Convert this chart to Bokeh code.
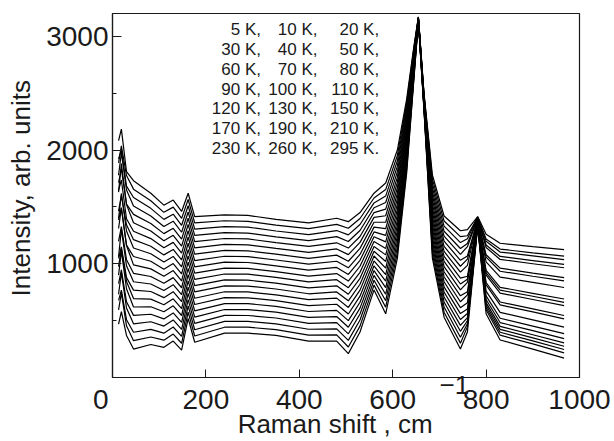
from bokeh.plotting import figure
from bokeh.models import Range1d, FixedTicker, Label
from bokeh.embed import file_html
from bokeh.resources import INLINE

# ---------------- data ----------------
temperatures_K = [5, 10, 20, 30, 40, 50, 60, 70, 80, 90, 100,
                  110, 120, 130, 150, 170, 190, 210, 230, 260, 295]

# Raman shift sample positions, cm^-1
raman_shift = [13, 19, 30, 45, 82, 110, 130, 148, 162, 176, 240, 290, 350, 420,
               480, 505, 530, 560, 585, 610, 630, 645, 655, 667, 685, 710, 745,
               760, 782, 800, 830, 900, 967]

# intensity at each Raman shift (one row per shift, one value per spectrum, top to bottom)
intensity_by_shift = [
    [2083, 1886, 1922, 1778, 1714, 1630, 1646, 1462, 1398, 1384, 1310, 1196, 1062, 1048, 974, 900, 826, 732, 678, 594, 470],
    [2183, 2036, 2002, 1978, 1834, 1880, 1736, 1602, 1618, 1494, 1490, 1326, 1302, 1148, 1134, 1110, 946, 922, 768, 744, 580],
    [1809, 1776, 1682, 1648, 1524, 1520, 1396, 1342, 1288, 1164, 1160, 1036, 982, 878, 844, 780, 666, 612, 508, 454, 370],
    [1730, 1656, 1582, 1508, 1434, 1360, 1286, 1212, 1138, 1064, 990, 916, 842, 768, 694, 620, 546, 472, 398, 324, 250],
    [1620, 1554, 1487, 1420, 1354, 1288, 1221, 1154, 1088, 1022, 955, 888, 822, 756, 689, 622, 556, 490, 423, 356, 290],
    [1515, 1452, 1390, 1328, 1265, 1202, 1140, 1078, 1015, 952, 890, 828, 765, 702, 640, 578, 515, 452, 390, 328, 265],
    [1560, 1498, 1436, 1374, 1312, 1250, 1188, 1126, 1064, 1002, 940, 878, 816, 754, 692, 630, 568, 506, 444, 382, 320],
    [1460, 1399, 1338, 1277, 1216, 1155, 1094, 1033, 972, 911, 850, 789, 728, 667, 606, 545, 484, 423, 362, 301, 240],
    [1620, 1565, 1510, 1455, 1400, 1345, 1290, 1235, 1180, 1125, 1070, 1015, 960, 905, 850, 795, 740, 685, 630, 575, 520],
    [1415, 1360, 1304, 1249, 1194, 1139, 1084, 1028, 973, 918, 862, 807, 752, 697, 642, 586, 531, 476, 420, 365, 310],
    [1430, 1378, 1326, 1274, 1222, 1170, 1118, 1066, 1014, 962, 910, 858, 806, 754, 702, 650, 598, 546, 494, 442, 390],
    [1425, 1373, 1322, 1270, 1218, 1166, 1114, 1063, 1011, 959, 908, 856, 804, 752, 700, 649, 597, 545, 494, 442, 390],
    [1390, 1339, 1288, 1237, 1186, 1135, 1084, 1033, 982, 931, 880, 829, 778, 727, 676, 625, 574, 523, 472, 421, 370],
    [1360, 1308, 1256, 1204, 1152, 1100, 1048, 996, 944, 892, 840, 788, 736, 684, 632, 580, 528, 476, 424, 372, 320],
    [1400, 1346, 1292, 1238, 1184, 1130, 1076, 1022, 968, 914, 860, 806, 752, 698, 644, 590, 536, 482, 428, 374, 320],
    [1370, 1312, 1254, 1196, 1138, 1080, 1022, 964, 906, 848, 790, 732, 674, 616, 558, 500, 442, 384, 326, 268, 210],
    [1450, 1398, 1345, 1292, 1240, 1188, 1135, 1082, 1030, 978, 925, 872, 820, 768, 715, 662, 610, 558, 505, 452, 400],
    [1620, 1578, 1535, 1492, 1450, 1408, 1365, 1322, 1280, 1238, 1195, 1152, 1110, 1068, 1025, 982, 940, 898, 855, 812, 770],
    [1710, 1652, 1595, 1538, 1480, 1422, 1365, 1308, 1250, 1192, 1135, 1078, 1020, 962, 905, 848, 790, 732, 675, 618, 560],
    [2000, 1952, 1905, 1858, 1810, 1762, 1715, 1668, 1620, 1572, 1525, 1478, 1430, 1382, 1335, 1288, 1240, 1192, 1145, 1098, 1050],
    [2450, 2418, 2385, 2352, 2320, 2288, 2255, 2222, 2190, 2158, 2125, 2092, 2060, 2028, 1995, 1962, 1930, 1898, 1865, 1832, 1800],
    [2900, 2885, 2870, 2855, 2840, 2825, 2810, 2795, 2780, 2765, 2750, 2735, 2720, 2705, 2690, 2675, 2660, 2645, 2630, 2615, 2600],
    [3170, 3168, 3166, 3164, 3162, 3160, 3158, 3156, 3154, 3152, 3150, 3148, 3146, 3144, 3142, 3140, 3138, 3136, 3134, 3132, 3130],
    [2500, 2492, 2485, 2478, 2470, 2462, 2455, 2448, 2440, 2432, 2425, 2418, 2410, 2402, 2395, 2388, 2380, 2372, 2365, 2358, 2350],
    [1780, 1744, 1707, 1670, 1634, 1598, 1561, 1524, 1488, 1452, 1415, 1378, 1342, 1306, 1269, 1232, 1196, 1160, 1123, 1086, 1050],
    [1420, 1376, 1331, 1286, 1242, 1198, 1153, 1108, 1064, 1020, 975, 930, 886, 842, 797, 752, 708, 664, 619, 574, 530],
    [1290, 1238, 1186, 1134, 1082, 1030, 978, 926, 874, 822, 770, 718, 666, 614, 562, 510, 458, 406, 354, 302, 250],
    [1300, 1246, 1219, 1178, 1150, 1068, 1040, 986, 890, 864, 836, 754, 727, 657, 602, 562, 526, 499, 472, 445, 400],
    [1415, 1410, 1407, 1403, 1401, 1393, 1390, 1385, 1376, 1374, 1371, 1363, 1361, 1354, 1349, 1345, 1342, 1339, 1337, 1334, 1330],
    [1260, 1218, 1197, 1165, 1143, 1079, 1058, 1016, 942, 920, 899, 835, 814, 760, 718, 686, 658, 637, 616, 595, 560],
    [1180, 1129, 1103, 1064, 1038, 961, 934, 883, 793, 768, 741, 664, 638, 573, 521, 483, 449, 423, 398, 372, 330],
    [1150, 1096, 1069, 1028, 1000, 918, 890, 836, 740, 714, 686, 604, 577, 507, 452, 412, 376, 349, 322, 295, 250],
    [1124, 1067, 1037, 994, 965, 878, 849, 791, 690, 661, 632, 545, 516, 443, 385, 342, 304, 275, 246, 217, 170],
]

legend_rows = [
    ["5 K,", "10 K,", "20 K,"],
    ["30 K,", "40 K,", "50 K,"],
    ["60 K,", "70 K,", "80 K,"],
    ["90 K,", "100 K,", "110 K,"],
    ["120 K,", "130 K,", "150 K,"],
    ["170 K,", "190 K,", "210 K,"],
    ["230 K,", "260 K,", "295 K."],
]

x_ticks = [0, 200, 400, 600, 800, 1000]
y_ticks = [1000, 2000, 3000]
y_minor_ticks = [500, 1500, 2500]
x_label = "Raman shift , cm"
x_label_sup = "\u22121"
y_label = "Intensity, arb. units"

# ---------------- figure ----------------
FONT = "Liberation Sans"
INK = "#1a1a1a"
FSP = "\u2007"  # figure space, used only to nudge centred labels

p = figure(width=614, height=441, output_backend="svg", toolbar_location=None,
           x_range=Range1d(0, 1000), y_range=Range1d(0, 3200),
           min_border_left=112, min_border_right=35, min_border_top=13, min_border_bottom=60)
p.background_fill_color = "white"
p.border_fill_color = "white"
p.outline_line_color = INK
p.outline_line_width = 1.2
p.xgrid.visible = False
p.ygrid.visible = False

for i, t in enumerate(temperatures_K):
    ys = [row[i] for row in intensity_by_shift]
    p.line(raman_shift, ys, line_color="black", line_width=1.2)

xa = p.xaxis[0]
xa.ticker = FixedTicker(ticks=x_ticks, minor_ticks=[])
xa.major_label_overrides = {0: "0" + FSP + "\u2008"}
xa.major_tick_in = 8
xa.major_tick_out = 0
xa.minor_tick_in = 0
xa.minor_tick_out = 0
xa.major_label_standoff = 6
xa.major_label_text_font = FONT
xa.major_label_text_font_size = "28px"
xa.major_label_text_color = INK
xa.axis_line_color = INK
xa.axis_line_width = 1.2
xa.major_tick_line_color = INK
xa.axis_label = FSP * 15 + x_label_sup + "\n" + x_label + FSP + "\u2008"
xa.axis_label_text_font = FONT
xa.axis_label_text_font_size = "26px"
xa.axis_label_text_font_style = "normal"
xa.axis_label_text_color = INK
xa.axis_label_text_line_height = 1.3
xa.axis_label_standoff = -48

ya = p.yaxis[0]
ya.ticker = FixedTicker(ticks=y_ticks, minor_ticks=y_minor_ticks)
ya.major_tick_in = 9
ya.major_tick_out = 0
ya.minor_tick_in = 4
ya.minor_tick_out = 0
ya.major_label_standoff = 4
ya.major_label_text_font = FONT
ya.major_label_text_font_size = "28px"
ya.major_label_text_color = INK
ya.axis_line_color = INK
ya.axis_line_width = 1.2
ya.major_tick_line_color = INK
ya.minor_tick_line_color = INK
ya.axis_label = FSP + y_label
ya.axis_label_text_font = FONT
ya.axis_label_text_font_size = "26px"
ya.axis_label_text_font_style = "normal"
ya.axis_label_text_color = INK
ya.axis_label_standoff = 7

# temperature list
col_right = [318, 439, 571]
for r, row in enumerate(legend_rows):
    for c, txt in enumerate(row):
        p.add_layout(Label(x=col_right[c], y=3058 - r * 174, text=txt, text_align="right",
                           text_baseline="middle", text_font=FONT, text_font_size="17px",
                           text_color=INK))

open("out.html", "w").write(file_html(p, INLINE))
